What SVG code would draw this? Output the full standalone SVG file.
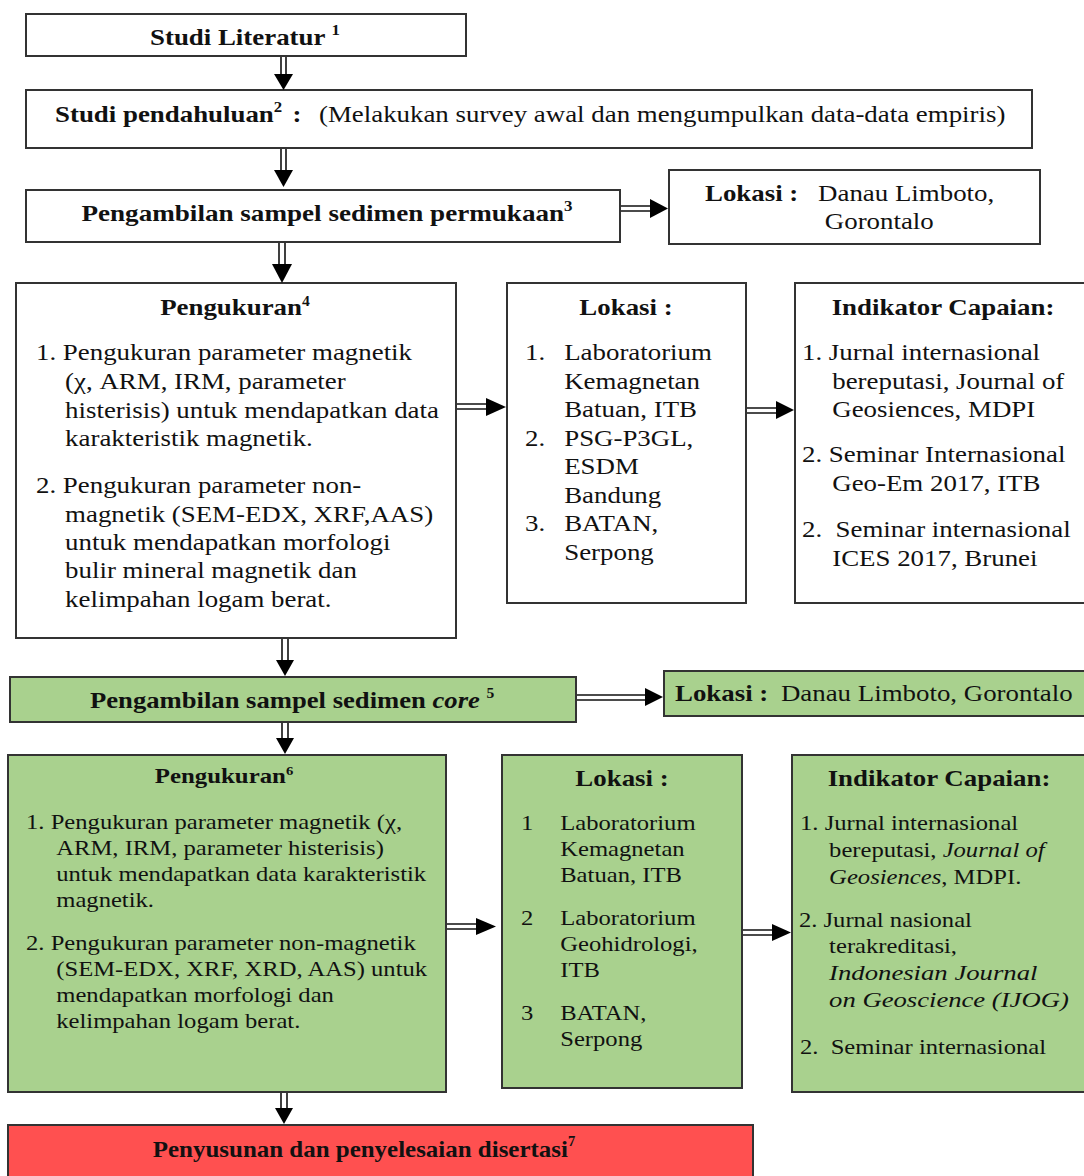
<svg xmlns="http://www.w3.org/2000/svg" width="1084" height="1176" viewBox="0 0 1084 1176">
<style>
text{font-family:"Liberation Serif","Times New Roman",serif;fill:#111}
.b{font-weight:bold}
.c{text-anchor:middle}
.i{font-style:italic}
.box{stroke:#333;stroke-width:2}
.w{fill:#fff}
.g{fill:#a9d18e}
.r{fill:#ff5050}
.t24{font-size:24px}
.t22{font-size:22px}
.sh{stroke:#111;stroke-width:1.6;fill:none}
.hd{fill:#000}
</style>
<rect width="1084" height="1176" fill="#fff"/>

<g id="n1"><rect class="box w" x="26" y="14" width="440" height="42"/>
<g transform="translate(245 0) scale(1.12 1)"><text class="b c t24" x="0" y="45">Studi Literatur <tspan font-size="15" dy="-10">1</tspan></text></g></g>

<g id="n2"><rect class="box w" x="26" y="90" width="1006" height="58"/>
<g transform="translate(55 0) scale(1.12 1)">
<text class="b t24" x="0" y="122">Studi pendahuluan<tspan font-size="15" dy="-10">2</tspan></text>
<text class="b t24" x="212" y="122">:</text>
<text class="t24" x="235.7" y="122">(Melakukan survey awal dan mengumpulkan data-data empiris)</text>
</g></g>

<g id="n3"><rect class="box w" x="26" y="190" width="594" height="52"/>
<g transform="translate(327 0) scale(1.13 1)"><text class="b c t24" x="0" y="221">Pengambilan sampel sedimen permukaan<tspan font-size="15" dy="-10">3</tspan></text></g></g>

<g id="n3b"><rect class="box w" x="669" y="170" width="371" height="74"/>
<g transform="translate(705 0) scale(1.12 1)">
<text class="b t24" x="0" y="201">Lokasi :</text>
<text class="t24" x="101" y="201">Danau Limboto,</text>
<text class="t24" x="107" y="229">Gorontalo</text>
</g></g>

<g id="n4"><rect class="box w" x="16" y="283" width="440" height="355"/>
<g transform="translate(235 0) scale(1.12 1)"><text class="b c t24" x="0" y="315">Pengukuran<tspan font-size="14" dy="-9">4</tspan></text></g>
<g class="t24" transform="translate(36 0) scale(1.12 1)">
<text x="0" y="360">1. Pengukuran parameter magnetik</text>
<text x="26" y="389">(χ, ARM, IRM, parameter</text>
<text x="26" y="418">histerisis) untuk mendapatkan data</text>
<text x="26" y="446">karakteristik magnetik.</text>
<text x="0" y="493">2. Pengukuran parameter non-</text>
<text x="26" y="522">magnetik (SEM-EDX, XRF,AAS)</text>
<text x="26" y="550">untuk mendapatkan morfologi</text>
<text x="26" y="578">bulir mineral magnetik dan</text>
<text x="26" y="607">kelimpahan logam berat.</text>
</g></g>

<g id="n5"><rect class="box w" x="507" y="283" width="239" height="320"/>
<g transform="translate(626 0) scale(1.12 1)"><text class="b c t24" x="0" y="315">Lokasi :</text></g>
<g class="t24" transform="translate(525 0) scale(1.12 1)">
<text x="0" y="360">1.</text><text x="35" y="360">Laboratorium</text>
<text x="35" y="389">Kemagnetan</text>
<text x="35" y="417">Batuan, ITB</text>
<text x="0" y="446">2.</text><text x="35" y="446">PSG-P3GL,</text>
<text x="35" y="474">ESDM</text>
<text x="35" y="503">Bandung</text>
<text x="0" y="531">3.</text><text x="35" y="531">BATAN,</text>
<text x="35" y="560">Serpong</text>
</g></g>

<g id="n6"><rect class="box w" x="795" y="283" width="295" height="320"/>
<g transform="translate(943 0) scale(1.12 1)"><text class="b c t24" x="0" y="315">Indikator Capaian:</text></g>
<g class="t24" transform="translate(802 0) scale(1.12 1)">
<text x="0" y="360">1. Jurnal internasional</text>
<text x="27" y="389">bereputasi, Journal of</text>
<text x="27" y="417">Geosiences, MDPI</text>
<text x="0" y="462">2. Seminar Internasional</text>
<text x="27" y="491">Geo-Em 2017, ITB</text>
<text x="0" y="537">2.</text><text x="30" y="537">Seminar internasional</text>
<text x="27" y="566">ICES 2017, Brunei</text>
</g></g>

<g id="n7"><rect class="box g" x="10" y="677" width="566" height="45"/>
<g transform="translate(90 0) scale(1.11 1)"><text class="b t24" x="0" y="708">Pengambilan sampel sedimen <tspan class="i">core</tspan> <tspan font-size="14" dy="-10">5</tspan></text></g></g>

<g id="n8"><rect class="box g" x="664" y="671" width="426" height="45"/>
<g transform="translate(675 0) scale(1.12 1)">
<text class="b t24" x="0" y="701">Lokasi :</text>
<text class="t24" x="94.6" y="701">Danau Limboto, Gorontalo</text>
</g></g>

<g id="n9"><rect class="box g" x="8" y="755" width="438" height="337"/>
<g transform="translate(224 0) scale(1.13 1)"><text class="b c t22" x="0" y="783">Pengukuran<tspan font-size="13" dy="-8">6</tspan></text></g>
<g class="t22" transform="translate(26 0) scale(1.12 1)">
<text x="0" y="829">1. Pengukuran parameter magnetik (χ,</text>
<text x="27" y="855">ARM, IRM, parameter histerisis)</text>
<text x="27" y="881">untuk mendapatkan data karakteristik</text>
<text x="27" y="907">magnetik.</text>
<text x="0" y="950">2. Pengukuran parameter non-magnetik</text>
<text x="27" y="976">(SEM-EDX, XRF, XRD, AAS) untuk</text>
<text x="27" y="1002">mendapatkan morfologi dan</text>
<text x="27" y="1028">kelimpahan logam berat.</text>
</g></g>

<g id="n10"><rect class="box g" x="502" y="755" width="240" height="333"/>
<g transform="translate(622 0) scale(1.12 1)"><text class="b c t24" x="0" y="786">Lokasi :</text></g>
<g class="t22" transform="translate(521 0) scale(1.12 1)">
<text x="0" y="830">1</text><text x="35" y="830">Laboratorium</text>
<text x="35" y="856">Kemagnetan</text>
<text x="35" y="882">Batuan, ITB</text>
<text x="0" y="925">2</text><text x="35" y="925">Laboratorium</text>
<text x="35" y="951">Geohidrologi,</text>
<text x="35" y="977">ITB</text>
<text x="0" y="1020">3</text><text x="35" y="1020">BATAN,</text>
<text x="35" y="1046">Serpong</text>
</g></g>

<g id="n11"><rect class="box g" x="792" y="755" width="298" height="337"/>
<g transform="translate(939 0) scale(1.12 1)"><text class="b c t24" x="0" y="786">Indikator Capaian:</text></g>
<g class="t22" transform="translate(800 0) scale(1.12 1)">
<text x="0" y="830">1. Jurnal internasional</text>
<text x="26" y="857">bereputasi, <tspan class="i">Journal of</tspan></text>
<text x="26" y="884"><tspan class="i">Geosiences</tspan>, MDPI.</text>
<text x="-1" y="927">2. Jurnal nasional</text>
<text x="26" y="953">terakreditasi,</text>
<text class="i" x="26" y="980" textLength="186" lengthAdjust="spacingAndGlyphs">Indonesian Journal</text>
<text class="i" x="26" y="1007" textLength="214" lengthAdjust="spacingAndGlyphs">on Geoscience (IJOG)</text>
<text x="0" y="1054">2.</text><text x="27.4" y="1054">Seminar internasional</text>
</g></g>

<g id="n12"><rect class="box r" x="8" y="1125" width="745" height="60"/>
<g transform="translate(364 0) scale(1.04 1)"><text class="b c t24" x="0" y="1157">Penyusunan dan penyelesaian disertasi<tspan font-size="14" dy="-11">7</tspan></text></g></g>

<g id="connectors">
<path class="sh" d="M281 57V76M286 57V76"/><polygon class="hd" points="274,74 293,74 283.5,90"/>
<path class="sh" d="M281 149V172M286 149V172"/><polygon class="hd" points="274,170 293,170 283.5,187"/>
<path class="sh" d="M279 243V266M285 243V266"/><polygon class="hd" points="272,264 292,264 282,283"/>
<path class="sh" d="M282 639V662M288 639V662"/><polygon class="hd" points="276,660 294,660 285,676"/>
<path class="sh" d="M282 723V740M288 723V740"/><polygon class="hd" points="276,738 294,738 285,754"/>
<path class="sh" d="M281 1093V1110M287 1093V1110"/><polygon class="hd" points="275,1108 293,1108 284,1124"/>
<path class="sh" d="M621 206H652M621 211H652"/><polygon class="hd" points="650,199 650,218 668,208.5"/>
<path class="sh" d="M457 404H488M457 409H488"/><polygon class="hd" points="486,398 486,416 506,407"/>
<path class="sh" d="M747 408H778M747 413H778"/><polygon class="hd" points="776,401 776,419 794,410"/>
<path class="sh" d="M577 695H648M577 700H648"/><polygon class="hd" points="645,688 645,706 663,697"/>
<path class="sh" d="M447 924H478M447 929H478"/><polygon class="hd" points="476,918 476,935 496,926.5"/>
<path class="sh" d="M743 930H774M743 935H774"/><polygon class="hd" points="772,924 772,941 791,932.5"/>
</g>
</svg>
